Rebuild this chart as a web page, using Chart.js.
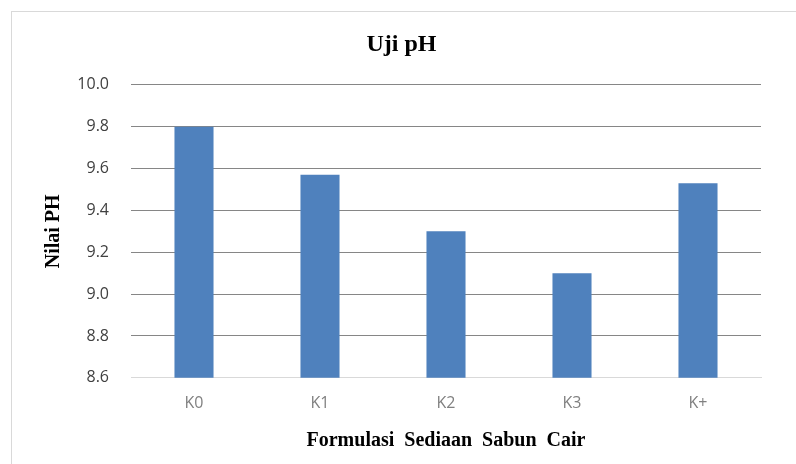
<!DOCTYPE html>
<html>
<head>
<meta charset="utf-8">
<script src="https://cdn.jsdelivr.net/npm/chart.js@4/dist/chart.umd.min.js"></script>
<style>
  html, body { margin: 0; padding: 0; background: #ffffff; }
  #wrap { width: 796px; height: 464px; position: relative; }
</style>
</head>
<body>
<div id="wrap"><canvas id="c" width="796" height="464"></canvas></div>
<script>
const categories = ["K0", "K1", "K2", "K3", "K+"];
const phValues = [9.80, 9.57, 9.30, 9.10, 9.53];
const yTickMin = 8.6;
const yTickMax = 10.0;
const yTickStep = 0.2;
const chartTitle = "Uji pH";
const yTitle = "Nilai PH";
const xTitle = "Formulasi  Sediaan  Sabun  Cair";

const framePlugin = {
  id: 'frame',
  beforeDraw(chart) {
    const ctx = chart.ctx;
    ctx.save();
    ctx.fillStyle = '#ffffff';
    ctx.fillRect(0, 0, chart.width, chart.height);
    ctx.strokeStyle = '#d9d9d9';
    ctx.lineWidth = 1;
    ctx.strokeRect(11.5, 11.5, chart.width + 50, chart.height + 50);
    ctx.restore();
  }
};

new Chart(document.getElementById('c'), {
  type: 'bar',
  data: {
    labels: categories,
    datasets: [{
      data: phValues,
      backgroundColor: '#4f81bd',
      borderWidth: 0,
      barPercentage: 0.31,
      categoryPercentage: 1.0
    }]
  },
  options: {
    responsive: false,
    animation: false,
    devicePixelRatio: 1,
    layout: { padding: { left: 42, right: 35, top: 0, bottom: 0 } },
    plugins: {
      legend: { display: false },
      tooltip: { enabled: false },
      title: {
        display: true,
        text: chartTitle,
        color: '#000000',
        font: { family: '"Liberation Serif", "Times New Roman", serif', size: 24, weight: 'bold', lineHeight: 1.2 },
        padding: { top: 30, bottom: 26 }
      }
    },
    scales: {
      x: {
        grid: { display: false, drawTicks: false },
        border: { display: true, color: '#d9d9d9', width: 1 },
        ticks: {
          color: '#808080',
          padding: 16,
          font: { family: '"Open Sans", sans-serif', size: 16 }
        },
        title: {
          display: true,
          text: xTitle,
          color: '#000000',
          font: { family: '"Liberation Serif", "Times New Roman", serif', size: 20, weight: 'bold', lineHeight: 1.2 },
          padding: { top: 0, bottom: 11 }
        }
      },
      y: {
        min: yTickMin,
        max: yTickMax,
        afterFit(scale) { scale.width = 89; },
        grid: {
          drawTicks: false,
          color: (ctx) => (ctx.tick && Math.abs(ctx.tick.value - yTickMin) < 1e-6) ? '#d9d9d9' : '#868686',
          lineWidth: 1
        },
        border: { display: false },
        ticks: {
          stepSize: yTickStep,
          color: '#404040',
          padding: 22,
          font: { family: '"Open Sans", sans-serif', size: 16 },
          callback: (v) => Number(v).toFixed(1)
        },
        title: {
          display: true,
          text: yTitle,
          color: '#000000',
          font: { family: '"Liberation Serif", "Times New Roman", serif', size: 20, weight: 'bold', lineHeight: 1.2 },
          padding: { top: 0, bottom: 0 }
        }
      }
    }
  },
  plugins: [framePlugin]
});
</script>
</body>
</html>
